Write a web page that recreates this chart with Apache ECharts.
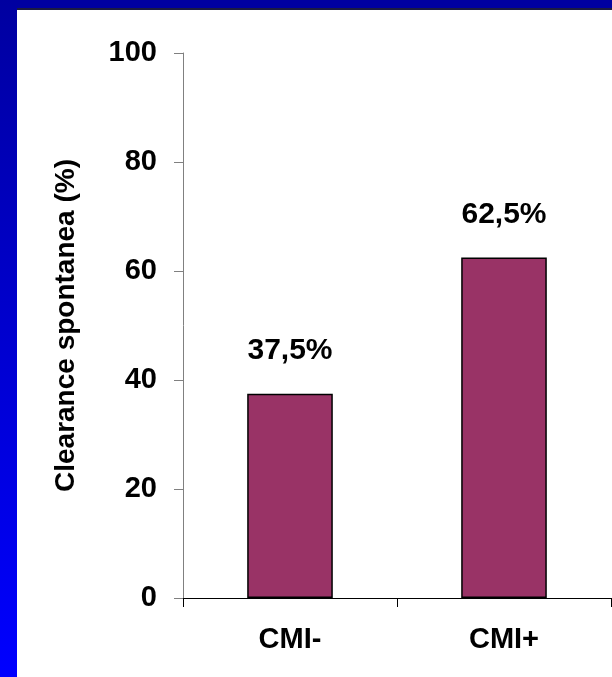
<!DOCTYPE html>
<html lang="it">
<head>
    <meta charset="UTF-8">
    <title>Clearance spontanea</title>
    <script type="text/javascript" src="https://cdn.jsdelivr.net/npm/echarts@6/dist/echarts.min.js"></script>
    <style>
        body { margin: 0; width: 612px; height: 677px; position: relative; background: #fff; overflow: hidden; }
        #top { position: absolute; left: 0; top: 0; width: 612px; height: 8px; background: #0000a0; border-bottom: 2px solid #1c1c40; }
        #left { position: absolute; left: 0; top: 0; width: 17px; height: 677px; background: linear-gradient(#0000a0, #0000ff); }
        #main { position: absolute; left: 0; top: 0; width: 612px; height: 677px; }
    </style>
</head>
<body>
    <div id="top"></div>
    <div id="left"></div>
    <div id="main"></div>
    <script type="text/javascript">
        var categories = ['CMI-', 'CMI+'];
        var clearance = [37.5, 62.5];
        var yTicks = [0, 20, 40, 60, 80, 100];

        var myChart = echarts.init(document.getElementById('main'));

        var option = {
            textStyle: { fontFamily: 'Liberation Sans, Arial, sans-serif' },
            grid: { left: 183, right: 1, top: 53, bottom: 79 },
            xAxis: {
                type: 'category',
                data: categories,
                axisLine: { lineStyle: { color: '#000', width: 1 } },
                axisTick: { show: true, length: 9, lineStyle: { color: '#000' } },
                axisLabel: { color: '#000', fontWeight: 'bold', fontSize: 29, margin: 27 }
            },
            yAxis: {
                type: 'value',
                min: yTicks[0],
                max: yTicks[yTicks.length - 1],
                interval: yTicks[1] - yTicks[0],
                name: 'Clearance spontanea (%)',
                nameLocation: 'middle',
                nameRotate: 90,
                nameGap: 103,
                nameTextStyle: { color: '#000', fontWeight: 'bold', fontSize: 28 },
                axisLine: { show: true, lineStyle: { color: '#808080', width: 1 } },
                axisTick: { show: true, length: 9, lineStyle: { color: '#808080' } },
                splitLine: { show: false },
                axisLabel: { color: '#000', fontWeight: 'bold', fontSize: 29, margin: 26 }
            },
            series: [{
                type: 'bar',
                data: clearance,
                barWidth: '40%',
                itemStyle: { color: '#993366', borderColor: '#000', borderWidth: 1.5 },
                label: {
                    show: true,
                    position: 'top',
                    distance: 28,
                    color: '#000',
                    fontWeight: 'bold',
                    fontSize: 30,
                    formatter: function (p) {
                        return p.value.toFixed(1).replace('.', ',') + '%';
                    }
                }
            }]
        };

        myChart.setOption(option);
    </script>
</body>
</html>
